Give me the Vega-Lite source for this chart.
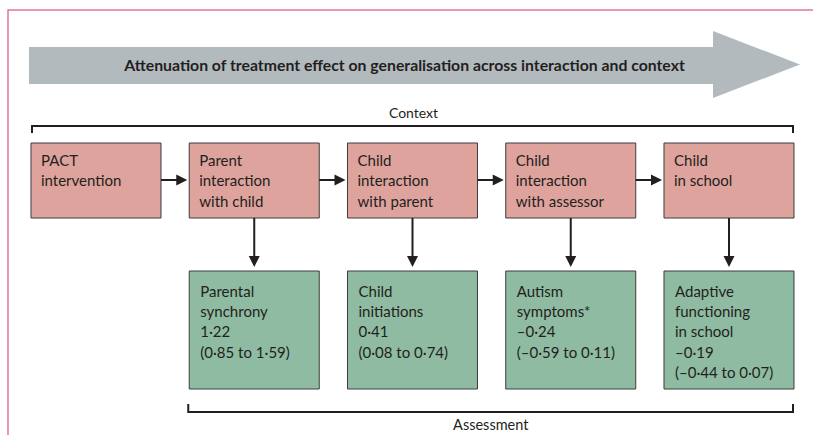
{
  "$schema": "https://vega.github.io/schema/vega-lite/v6.json",
  "width": 813,
  "height": 435,
  "padding": 0,
  "autosize": "none",
  "background": "#ffffff",
  "config": {
    "view": {"stroke": null},
    "axis": {"disable": true},
    "text": {"font": "Lato", "color": "#231f20"}
  },
  "datasets": {
    "steps": [
      {"step": 1, "name": "PACT\nintervention"},
      {"step": 2, "name": "Parent\ninteraction\nwith child"},
      {"step": 3, "name": "Child\ninteraction\nwith parent"},
      {"step": 4, "name": "Child\ninteraction\nwith assessor"},
      {"step": 5, "name": "Child\nin school"}
    ],
    "links": [
      {"from": 1, "to": 2},
      {"from": 2, "to": 3},
      {"from": 3, "to": 4},
      {"from": 4, "to": 5}
    ],
    "outcomes": [
      {"step": 2, "outcome": "Parental synchrony", "estimate": 1.22, "low": 0.85, "high": 1.59, "label": "Parental\nsynchrony\n1·22\n(0·85 to 1·59)"},
      {"step": 3, "outcome": "Child initiations", "estimate": 0.41, "low": 0.08, "high": 0.74, "label": "Child\ninitiations\n0·41\n(0·08 to 0·74)"},
      {"step": 4, "outcome": "Autism symptoms*", "estimate": -0.24, "low": -0.59, "high": 0.11, "label": "Autism\nsymptoms*\n–0·24\n(–0·59 to 0·11)"},
      {"step": 5, "outcome": "Adaptive functioning in school", "estimate": -0.19, "low": -0.44, "high": 0.07, "label": "Adaptive\nfunctioning\nin school\n–0·19\n(–0·44 to 0·07)"}
    ],
    "one": [{"item": "diagram"}]
  },
  "encoding": {},
  "layer": [
    {
      "data": {"name": "one"},
      "mark": {"type": "rule", "color": "#e2769a", "strokeWidth": 1.5, "xOffset": -23, "x2Offset": 0},
      "encoding": {
        "x": {"datum": 1, "type": "quantitative", "scale": {"domain": [0.80411, 5.94155], "zero": false, "nice": false}},
        "x2": {"datum": 5.94155},
        "y": {"datum": 10, "type": "quantitative", "scale": {"domain": [0, 435], "reverse": true, "zero": false, "nice": false}}
      }
    },
    {
      "data": {"name": "one"},
      "mark": {"type": "rule", "color": "#e2769a", "strokeWidth": 1.5, "xOffset": -23},
      "encoding": {
        "x": {"datum": 1, "type": "quantitative"},
        "y": {"datum": 9.3, "type": "quantitative"},
        "y2": {"datum": 435}
      }
    },
    {
      "data": {"name": "one"},
      "mark": {"type": "rect", "color": "#b3babe", "xOffset": -2, "x2Offset": 49},
      "encoding": {
        "x": {"datum": 1, "type": "quantitative"},
        "x2": {"datum": 5},
        "y": {"datum": 47, "type": "quantitative"},
        "y2": {"datum": 84}
      }
    },
    {
      "data": {"name": "one"},
      "mark": {"type": "point", "shape": "M-2.597,-1L0,0L-2.597,1Z", "size": 4489, "filled": true, "opacity": 1, "color": "#b3babe", "strokeWidth": 0, "xOffset": 136},
      "encoding": {
        "x": {"datum": 5, "type": "quantitative"},
        "y": {"datum": 64.5, "type": "quantitative"}
      }
    },
    {
      "data": {"name": "one"},
      "mark": {"type": "text", "text": "Attenuation of treatment effect on generalisation across interaction and context", "fontWeight": "bold", "fontSize": 15.8, "align": "center", "baseline": "alphabetic", "xOffset": 57},
      "encoding": {
        "x": {"datum": 3, "type": "quantitative"},
        "y": {"datum": 71, "type": "quantitative"}
      }
    },
    {
      "data": {"name": "one"},
      "mark": {"type": "rule", "color": "#231f20", "strokeWidth": 2, "xOffset": 1, "x2Offset": 129},
      "encoding": {
        "x": {"datum": 1, "type": "quantitative"},
        "x2": {"datum": 5},
        "y": {"datum": 126, "type": "quantitative"}
      }
    },
    {
      "data": {"name": "one"},
      "mark": {"type": "rule", "color": "#231f20", "strokeWidth": 2, "xOffset": 1},
      "encoding": {
        "x": {"datum": 1, "type": "quantitative"},
        "y": {"datum": 125, "type": "quantitative"},
        "y2": {"datum": 133}
      }
    },
    {
      "data": {"name": "one"},
      "mark": {"type": "rule", "color": "#231f20", "strokeWidth": 2, "xOffset": 129},
      "encoding": {
        "x": {"datum": 5, "type": "quantitative"},
        "y": {"datum": 125, "type": "quantitative"},
        "y2": {"datum": 133}
      }
    },
    {
      "data": {"name": "one"},
      "mark": {"type": "text", "text": "Context", "fontSize": 14, "align": "center", "baseline": "alphabetic", "xOffset": 66},
      "encoding": {
        "x": {"datum": 3, "type": "quantitative"},
        "y": {"datum": 118, "type": "quantitative"}
      }
    },
    {
      "data": {"name": "steps"},
      "mark": {"type": "rect", "fill": "#dfa39d", "stroke": "#3c3c3c", "strokeWidth": 1, "x2Offset": 130},
      "encoding": {
        "x": {"field": "step", "type": "quantitative"},
        "x2": {"field": "step"},
        "y": {"datum": 143, "type": "quantitative"},
        "y2": {"datum": 218}
      }
    },
    {
      "data": {"name": "steps"},
      "mark": {"type": "text", "fontSize": 15, "align": "left", "baseline": "alphabetic", "lineBreak": "\n", "lineHeight": 20.4, "xOffset": 10},
      "encoding": {
        "x": {"field": "step", "type": "quantitative"},
        "y": {"datum": 166, "type": "quantitative"},
        "text": {"field": "name"}
      }
    },
    {
      "data": {"name": "links"},
      "mark": {"type": "rule", "color": "#231f20", "strokeWidth": 2, "xOffset": 130, "x2Offset": -6},
      "encoding": {
        "x": {"field": "from", "type": "quantitative"},
        "x2": {"field": "to"},
        "y": {"datum": 180, "type": "quantitative"}
      }
    },
    {
      "data": {"name": "links"},
      "mark": {"type": "point", "shape": "M-2,-1L0,0L-2,1Z", "size": 121, "filled": true, "opacity": 1, "color": "#231f20", "strokeWidth": 0, "xOffset": -2},
      "encoding": {
        "x": {"field": "to", "type": "quantitative"},
        "y": {"datum": 180, "type": "quantitative"}
      }
    },
    {
      "data": {"name": "outcomes"},
      "mark": {"type": "rule", "color": "#231f20", "strokeWidth": 2, "xOffset": 65},
      "encoding": {
        "x": {"field": "step", "type": "quantitative"},
        "y": {"datum": 218, "type": "quantitative"},
        "y2": {"datum": 262}
      }
    },
    {
      "data": {"name": "outcomes"},
      "mark": {"type": "point", "shape": "M-1,-2L1,-2L0,0Z", "size": 121, "filled": true, "opacity": 1, "color": "#231f20", "strokeWidth": 0, "xOffset": 65},
      "encoding": {
        "x": {"field": "step", "type": "quantitative"},
        "y": {"datum": 267, "type": "quantitative"}
      }
    },
    {
      "data": {"name": "outcomes"},
      "mark": {"type": "rect", "fill": "#8fbba2", "stroke": "#3c3c3c", "strokeWidth": 1, "x2Offset": 130},
      "encoding": {
        "x": {"field": "step", "type": "quantitative"},
        "x2": {"field": "step"},
        "y": {"datum": 271, "type": "quantitative"},
        "y2": {"datum": 389}
      }
    },
    {
      "data": {"name": "outcomes"},
      "mark": {"type": "text", "fontSize": 15, "align": "left", "baseline": "alphabetic", "lineBreak": "\n", "lineHeight": 20.2, "xOffset": 11},
      "encoding": {
        "x": {"field": "step", "type": "quantitative"},
        "y": {"datum": 297, "type": "quantitative"},
        "text": {"field": "label"}
      }
    },
    {
      "data": {"name": "one"},
      "mark": {"type": "rule", "color": "#231f20", "strokeWidth": 2, "xOffset": -1, "x2Offset": 129},
      "encoding": {
        "x": {"datum": 2, "type": "quantitative"},
        "x2": {"datum": 5},
        "y": {"datum": 412, "type": "quantitative"}
      }
    },
    {
      "data": {"name": "one"},
      "mark": {"type": "rule", "color": "#231f20", "strokeWidth": 2, "xOffset": -1},
      "encoding": {
        "x": {"datum": 2, "type": "quantitative"},
        "y": {"datum": 404, "type": "quantitative"},
        "y2": {"datum": 413}
      }
    },
    {
      "data": {"name": "one"},
      "mark": {"type": "rule", "color": "#231f20", "strokeWidth": 2, "xOffset": 129},
      "encoding": {
        "x": {"datum": 5, "type": "quantitative"},
        "y": {"datum": 404, "type": "quantitative"},
        "y2": {"datum": 413}
      }
    },
    {
      "data": {"name": "one"},
      "mark": {"type": "text", "text": "Assessment", "fontSize": 14.5, "align": "center", "baseline": "alphabetic", "xOffset": -15},
      "encoding": {
        "x": {"datum": 4, "type": "quantitative"},
        "y": {"datum": 430, "type": "quantitative"}
      }
    }
  ]
}
